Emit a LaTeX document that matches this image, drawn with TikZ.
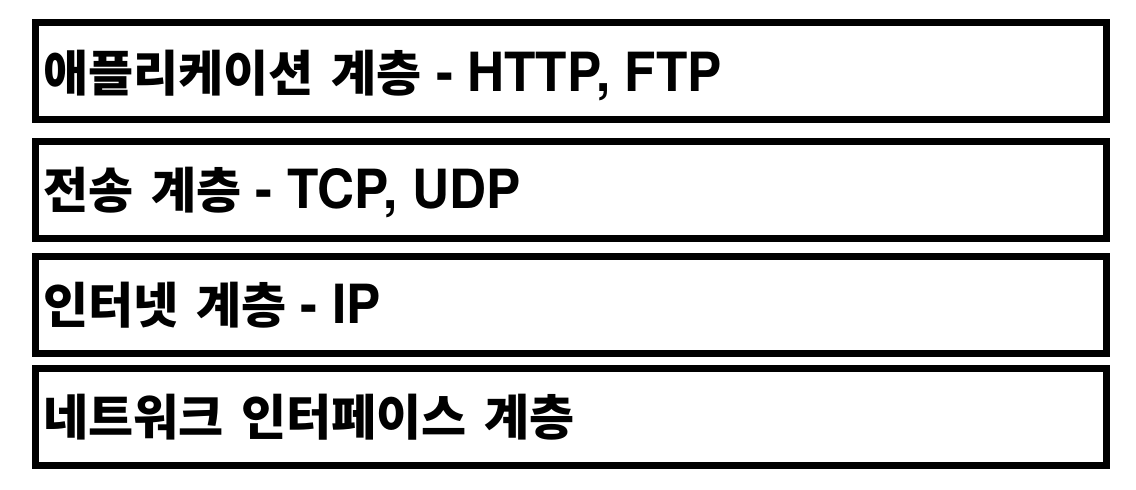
\documentclass[tikz,border=0pt]{standalone}
\usepackage{fontspec}
\setmainfont{TeX Gyre Heros}[FakeStretch=0.95]
\newfontfamily\kr{Noto Sans CJK KR Medium}[WordSpace=1.6]
\begin{document}
\begin{tikzpicture}[x=1pt,y=-1pt,
  layer/.style={draw=black, line width=7pt, rectangle, inner sep=0pt, minimum width=1071pt, minimum height=97pt},
  lbl/.style={inner sep=0pt, font=\fontsize{54pt}{60pt}\selectfont\bfseries, anchor=base west}]
\newcommand\ko[1]{{\kr\fontsize{49pt}{56pt}\selectfont #1}}
\useasboundingbox (0,0) rectangle (1136,490);
\node[layer] (b1) at (571,71) {};
\node[layer] (b2) at (571,189.5) {};
\node[layer] (b3) at (571,305) {};
\node[layer] (b4) at (571,417) {};
\node[lbl] (t1) at (43,91) {\ko{애플리케이션 계층} - HTTP, FTP};
\node[lbl] (t2) at (43,208) {\ko{전송 계층} - TCP, UDP};
\node[lbl] (t3) at (43,323) {\ko{인터넷 계층} - IP};
\node[lbl] (t4) at (43,435) {\ko{네트워크 인터페이스 계층}};
\end{tikzpicture}
\end{document}
